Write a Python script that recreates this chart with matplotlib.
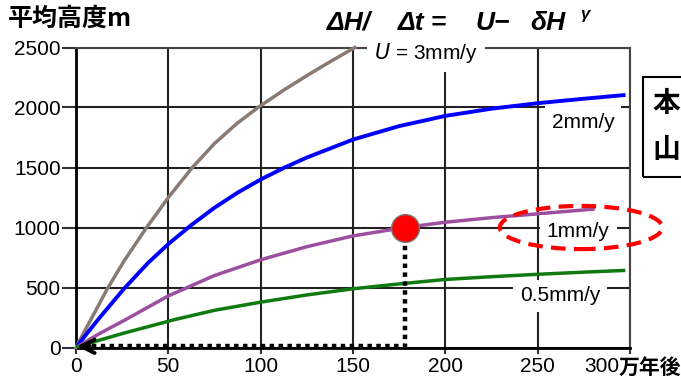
import numpy as np
import matplotlib
matplotlib.use('Agg')
import matplotlib.pyplot as plt
from matplotlib.patches import Ellipse, Rectangle

plt.rcParams['font.family'] = ['Liberation Sans', 'Noto Sans CJK JP', 'DejaVu Sans']

# values (time in 10^4 years, mean height in m)
t_3mm = [0, 3, 8, 17, 26, 38, 50, 63, 75, 87, 99, 113, 126, 138, 151]
h_3mm = [0, 88, 231, 490, 720, 995, 1250, 1500, 1700, 1865, 2005, 2150, 2275, 2385, 2500]

t_2mm = [0, 5, 12.6, 26, 39, 50, 62, 75, 88, 100, 113, 125, 150, 175, 200, 225, 250, 275, 296.5]
h_2mm = [0, 99, 245, 490, 705, 862, 1015, 1165, 1295, 1400, 1500, 1583, 1733, 1845, 1930, 1990, 2036, 2073, 2103]

t_1mm = [0, 12.6, 26, 50, 75, 100, 125, 150, 178, 200, 225, 250, 280]
h_1mm = [0, 115, 225, 430, 600, 731, 840, 930, 1000, 1044, 1082, 1114, 1153]

t_05mm = [0, 12, 26, 53, 75, 100, 125, 150, 175, 200, 225, 250, 275, 296.5]
h_05mm = [0, 58, 120, 231, 310, 378, 438, 489, 530, 567, 590, 610, 628, 642]

dot_t, dot_h = 178, 1000

x_ticks = [0, 50, 100, 150, 200, 250, 300]
x_labels = ['0', '50', '100', '150', '200', '250', '']
y_ticks = [0, 500, 1000, 1500, 2000, 2500]

fig = plt.figure(figsize=(6.81, 3.85), dpi=100)
ax = fig.add_axes([76/681, 1 - 347.5/385, (630 - 76)/681, (347.5 - 47.5)/385])

ax.set_xlim(0, 300)
ax.set_ylim(0, 2500)
ax.set_xticks(x_ticks)
ax.set_xticklabels(x_labels)
ax.set_yticks(y_ticks)
ax.tick_params(axis='both', labelsize=15, width=1.5, color='#333333')
ax.tick_params(axis='y', length=10, pad=1)
ax.tick_params(axis='x', length=4, pad=3)
ax.grid(True, color='#222222', lw=1.5, zorder=0)
ax.set_axisbelow(True)
for s in ['top', 'right']:
    ax.spines[s].set_color('#444444')
    ax.spines[s].set_linewidth(1.5)
for s in ['left', 'bottom']:
    ax.spines[s].set_color('black')
    ax.spines[s].set_linewidth(2)

ax.plot(t_3mm, h_3mm, color='#8a7a72', lw=2.5, zorder=3, clip_on=False)
ax.plot(t_2mm, h_2mm, color='#0000ff', lw=2.8, zorder=3)
ax.plot(t_1mm, h_1mm, color='#9c4f9f', lw=2.5, zorder=3)
ax.plot(t_05mm, h_05mm, color='#107a10', lw=2.5, zorder=3)

# dotted guide from the marked point down to the axis and back to origin
ax.plot([dot_t, dot_t, 2], [dot_h, 15, 15], color='black', lw=3.2, ls=(0, (1, 1)),
        dash_capstyle='butt', zorder=4, clip_on=False)
ax.annotate('', xy=(-1, 10), xytext=(9, 10),
            arrowprops=dict(arrowstyle='->', lw=2.8, color='black', mutation_scale=24),
            zorder=5, annotation_clip=False)
ax.plot([dot_t], [dot_h], 'o', ms=20, mfc='#ff0000', mec='#777777', mew=1, zorder=6)

lbl = dict(fontsize=15, ha='center', va='center', zorder=4,
           bbox=dict(facecolor='white', edgecolor='none', pad=5))
ax.text(189.5, 2455, r'$U$ = 3mm/y', clip_on=False, **lbl)
ax.text(274.5, 1875, '2mm/y', **lbl)
ax.text(272, 965, '1mm/y', **lbl)
ax.text(262, 430, '0.5mm/y', **lbl)

ax.add_patch(Ellipse((273.5, 1000), 88, 360, fill=False, edgecolor='#ff0000',
                     lw=3, ls=(0, (3.5, 2)), zorder=7, clip_on=False))

# texts outside the axes
fig.text(8/681, 1 - 19/385, '平均高度m', fontsize=18, fontweight='bold',
         family=['Noto Sans CJK JP'], ha='left', va='center')
formula = [(327, 'ΔH/'), (398, 'Δt ='), (475, 'U−'), (530, 'δH')]
for px, s in formula:
    fig.text(px/681, 1 - 23/385, s, fontsize=19, fontweight='bold',
             style='italic', ha='left', va='center')
fig.text(580/681, 1 - 15/385, 'γ', fontsize=12, fontweight='bold',
         style='italic', ha='left', va='center')
fig.text(619/681, 1 - 367/385, '300', fontsize=15, ha='right', va='center')
fig.text(619/681, 1 - 367/385, '万年後', fontsize=15, fontweight='bold',
         family=['Noto Sans CJK JP'], ha='left', va='center')

fig.patches.append(Rectangle((643/681, 1 - 177/385), 0.2, 100/385, transform=fig.transFigure,
                             fill=False, edgecolor='black', lw=1.5))
fig.text(652/681, 1 - 104/385, '本', fontsize=20, fontweight='bold',
         family=['Noto Sans CJK JP'], ha='left', va='center')
fig.text(652/681, 1 - 150/385, '山', fontsize=20, fontweight='bold',
         family=['Noto Sans CJK JP'], ha='left', va='center')

plt.savefig('out.png', dpi=100)
